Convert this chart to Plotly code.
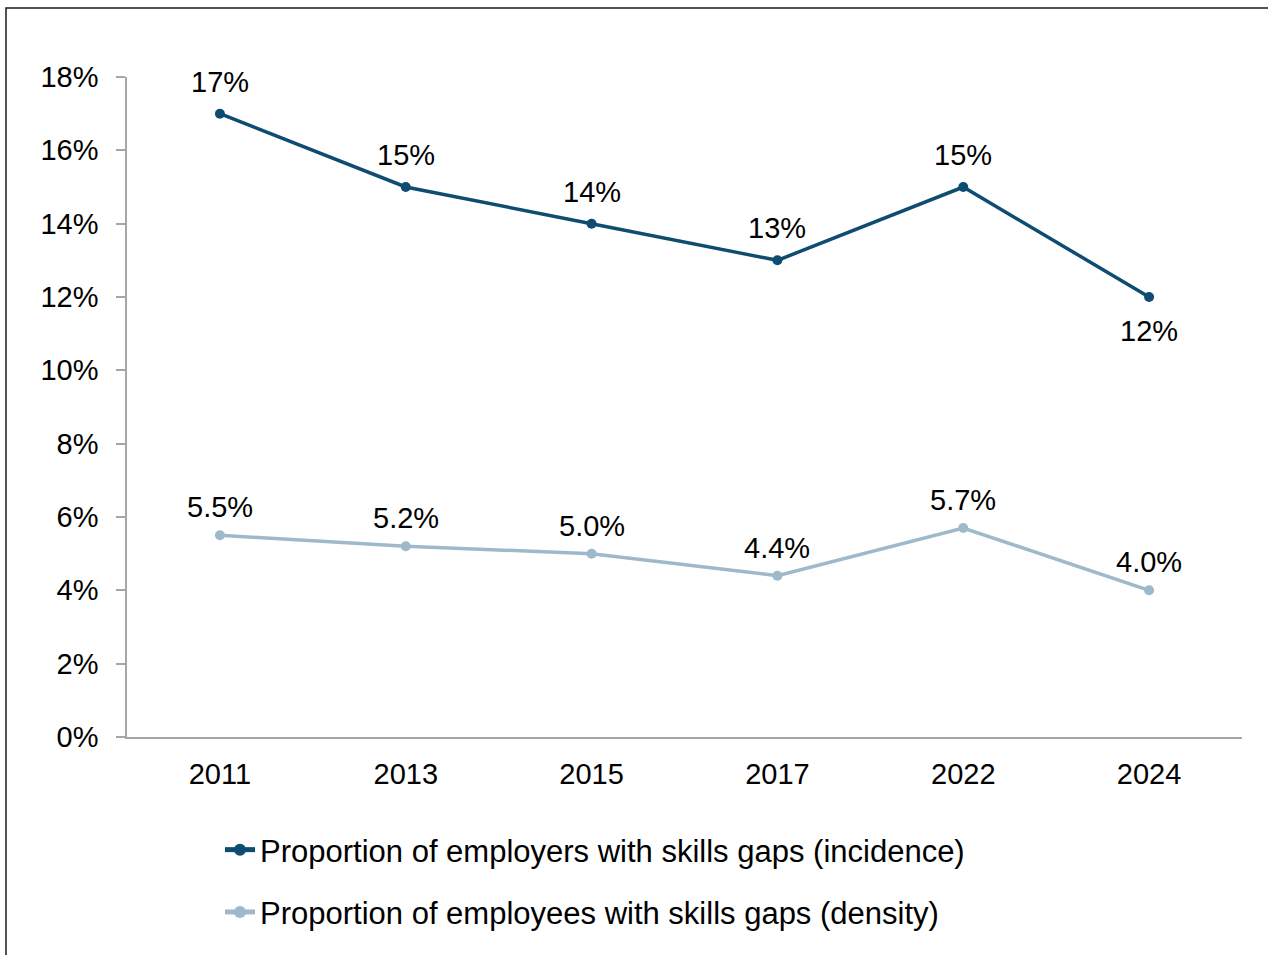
import plotly.graph_objects as go

# Skills gaps survey results
years = ["2011", "2013", "2015", "2017", "2022", "2024"]
incidence = [17, 15, 14, 13, 15, 12]          # % of employers with skills gaps
density = [5.5, 5.2, 5.0, 4.4, 5.7, 4.0]      # % of employees with skills gaps

dark = "#0F4C71"
light = "#9DB9CA"
font_family = "Liberation Sans, Arial, sans-serif"
label_size = 29
legend_size = 31

W, H = 1268, 955
L, R, T, B = 127, 26, 77, 218
pw = W - L - R
ph = H - T - B

fig = go.Figure()
fig.add_trace(go.Scatter(
    x=years, y=incidence, mode="lines+markers",
    name="Proportion of employers with skills gaps (incidence)",
    legendgroup="a",
    line=dict(color=dark, width=3.5), marker=dict(color=dark, size=10),
))
fig.add_trace(go.Scatter(
    x=years, y=density, mode="lines+markers",
    name="Proportion of employees with skills gaps (density)",
    legendgroup="b",
    line=dict(color=light, width=3.5), marker=dict(color=light, size=10),
))

# data labels (x given by category index)
for i, v in enumerate(incidence):
    below = i == len(years) - 1
    fig.add_annotation(
        x=i, y=v, xref="x", yref="y", text=f"{v:.0f}%", showarrow=False,
        yshift=-34 if below else 32,
        font=dict(family=font_family, size=label_size, color="#000000"),
    )
for i, v in enumerate(density):
    fig.add_annotation(
        x=i, y=v, xref="x", yref="y", text=f"{v:.1f}%", showarrow=False,
        yshift=28,
        font=dict(family=font_family, size=label_size, color="#000000"),
    )

fig.update_layout(
    width=W, height=H,
    margin=dict(l=L, r=R, t=T, b=B),
    paper_bgcolor="white", plot_bgcolor="white",
    font=dict(family=font_family, size=label_size, color="#000000"),
    showlegend=True,
    legend=dict(
        orientation="v", x=(220 - L) / pw, y=-(823 - (T + ph)) / ph,
        xanchor="left", yanchor="top",
        font=dict(family=font_family, size=legend_size, color="#000000"),
        tracegroupgap=19, itemsizing="constant",
        bgcolor="rgba(0,0,0,0)",
    ),
    xaxis=dict(
        type="category", range=[-0.5, 5.5],
        showline=True, linecolor="#A6A6A6", linewidth=1.5,
        ticks="", showgrid=False, zeroline=False,
        tickfont=dict(size=label_size), ticklabelstandoff=10,
    ),
    yaxis=dict(
        range=[0, 18], dtick=2, ticksuffix="%",
        showline=True, linecolor="#A6A6A6", linewidth=1.5,
        ticks="outside", ticklen=9, tickcolor="#A6A6A6", tickwidth=1.5,
        showgrid=False, zeroline=False,
        tickfont=dict(size=label_size), ticklabelstandoff=12,
    ),
    shapes=[
        # outer frame
        dict(type="rect", xref="paper", yref="paper",
             x0=(6 - L) / pw, x1=(W + 5 - L) / pw,
             y0=-(H + 5 - T - ph) / ph, y1=1 + (T - 8) / ph,
             line=dict(color="#1A1A1A", width=1.5), layer="below"),
        # x-axis line extends left under the tick marks
        dict(type="line", xref="paper", yref="paper",
             x0=(118 - L) / pw, x1=0, y0=0, y1=0,
             line=dict(color="#A6A6A6", width=1.5)),
    ],
)

fig.write_html("out.html")
